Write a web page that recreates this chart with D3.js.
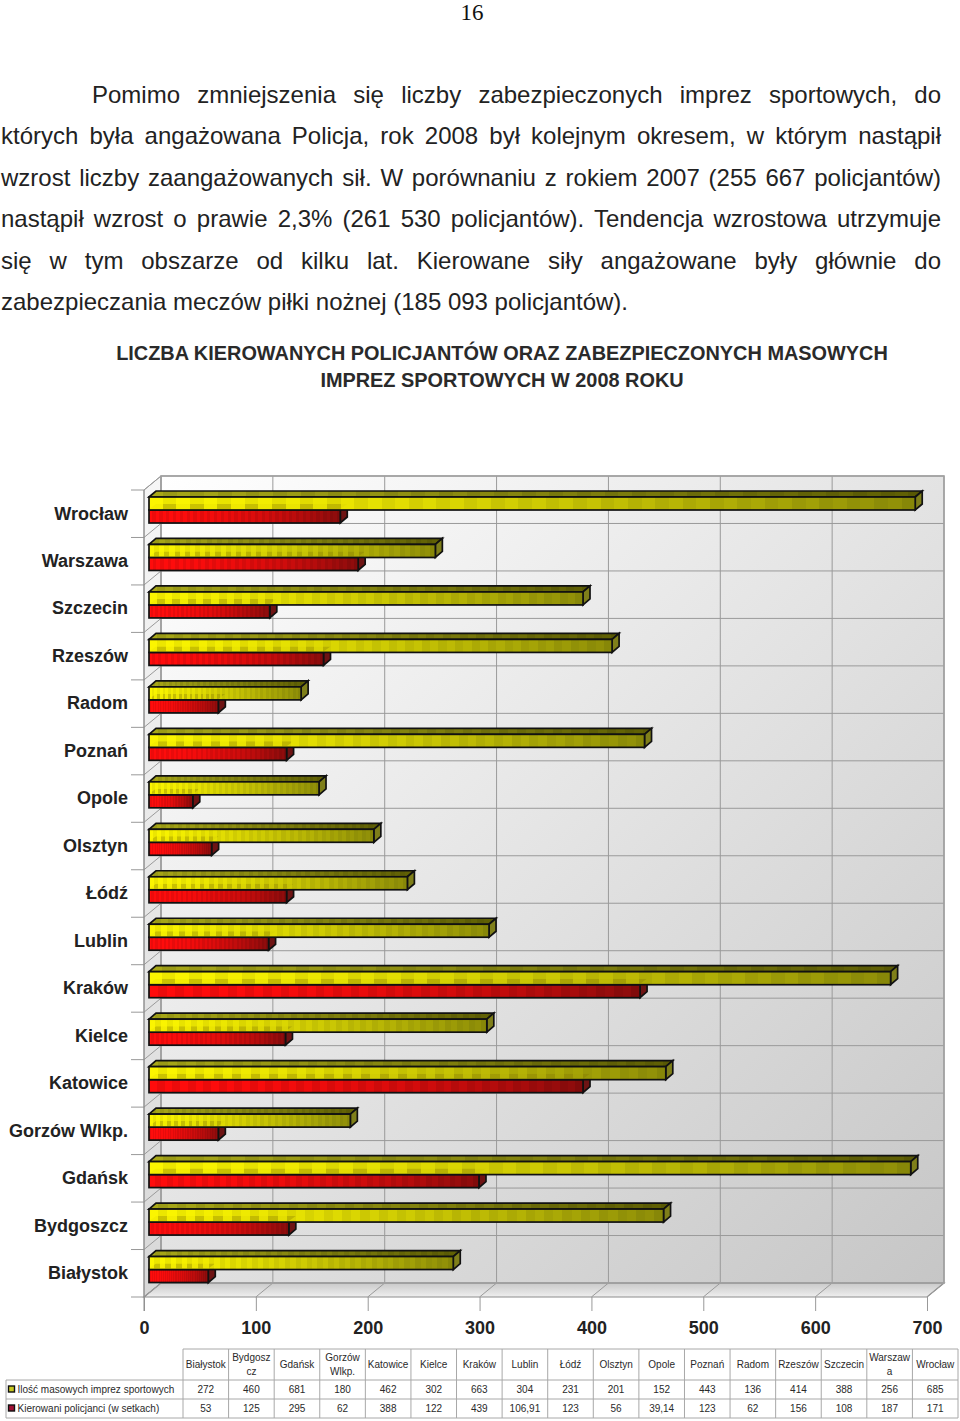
<!DOCTYPE html>
<html>
<head>
<meta charset="utf-8">
<script src="https://cdn.jsdelivr.net/npm/d3@7"></script>
<style>
	html, body { margin: 0; padding: 0; background: #fff; }
	svg { display: block; }
	text { font-family: 'Liberation Sans', Arial, sans-serif; }
</style>
</head>
<body>
<script>
const categories = ['Białystok', 'Bydgoszcz', 'Gdańsk', 'Gorzów Wlkp.', 'Katowice', 'Kielce', 'Kraków', 'Lublin', 'Łódź', 'Olsztyn', 'Opole', 'Poznań', 'Radom', 'Rzeszów', 'Szczecin', 'Warszawa', 'Wrocław'];
const tableHeads = ['Białystok', 'Bydgosz|cz', 'Gdańsk', 'Gorzów|Wlkp.', 'Katowice', 'Kielce', 'Kraków', 'Lublin', 'Łódź', 'Olsztyn', 'Opole', 'Poznań', 'Radom', 'Rzeszów', 'Szczecin', 'Warszaw|a', 'Wrocław'];
const events = [272, 460, 681, 180, 462, 302, 663, 304, 231, 201, 152, 443, 136, 414, 388, 256, 685];
const officers = [53, 125, 295, 62, 388, 122, 439, 106.91, 123, 56, 39.14, 123, 62, 156, 108, 187, 171];
const xTicks = [0, 100, 200, 300, 400, 500, 600, 700];
const seriesNames = ['Ilość masowych imprez sportowych', 'Kierowani policjanci (w setkach)'];

const chartTitle = ['LICZBA KIEROWANYCH POLICJANTÓW ORAZ ZABEZPIECZONYCH MASOWYCH', 'IMPREZ SPORTOWYCH W 2008 ROKU'];
const paragraph = [
	'Pomimo zmniejszenia się liczby zabezpieczonych imprez sportowych, do',
	'których była angażowana Policja, rok 2008 był kolejnym okresem, w którym nastąpił',
	'wzrost liczby zaangażowanych sił. W porównaniu z rokiem 2007 (255 667 policjantów)',
	'nastąpił wzrost o prawie 2,3% (261 530 policjantów). Tendencja wzrostowa utrzymuje',
	'się w tym obszarze od kilku lat. Kierowane siły angażowane były głównie do',
	'zabezpieczania meczów piłki nożnej (185 093 policjantów).'
];

const svg = d3.select('body').append('svg').attr('width', 960).attr('height', 1421);
const defs = svg.append('defs');

// page text
svg.append('text').text('16')
	.attr('x', 472).attr('y', 20)
	.attr('text-anchor', 'middle')
	.style('font-family', "'Liberation Serif', serif")
	.style('font-size', '23px')
	.attr('fill', '#111');

paragraph.forEach((line, i) => {
	const left = i === 0 ? 92 : 1;
	const t = svg.append('text').text(line)
		.attr('x', left).attr('y', 103 + i * 41.4)
		.style('font-size', '24px')
		.attr('fill', '#222');
	if (i < paragraph.length - 1) {
		// justified lines, spread the spaces out to the right margin
		const gaps = line.split(' ').length - 1;
		t.style('word-spacing', (941 - left - t.node().getComputedTextLength()) / gaps + 'px');
	}
});

chartTitle.forEach((line, i) => {
	svg.append('text').text(line)
		.attr('x', 502).attr('y', 360 + i * 26.5)
		.attr('text-anchor', 'middle')
		.style('font-size', '19.9px')
		.style('font-weight', 'bold')
		.attr('fill', '#2a2a2a');
});

// chart geometry
const wallDx = 17, wallDy = -14;
const barInset = 5, barDx = 7, barDy = -6;
const x = d3.scaleLinear().domain([0, 700]).range([144, 927]);
const y = d3.scaleBand().domain(categories.slice().reverse()).range([490, 1297]);
const yTop = y.range()[0], yBottom = y.range()[1];
const barH = 13;

const stops = (id, attrs, list) => {
	const g = defs.append('linearGradient').attr('id', id);
	Object.keys(attrs).forEach(k => g.attr(k, attrs[k]));
	list.forEach(s => g.append('stop').attr('offset', s[0]).attr('stop-color', s[1]).attr('stop-opacity', s[2] === undefined ? 1 : s[2]));
};

// bar fills are stepped, always the same number of bands over the bar length
const bands = 28;
const stepped = (id, from, to, power, dim) => {
	const col = d3.interpolateRgb(from, to);
	const list = [];
	d3.range(bands * 2).forEach(i => {
		let c = d3.color(col(Math.pow(i / (bands * 2 - 1), power)));
		if (i % 2) c = c.darker(dim);
		list.push([i / (bands * 2), c.formatHex()]);
		list.push([(i + 1) / (bands * 2), c.formatHex()]);
	});
	stops(id, {}, list);
};
stepped('yellowFront', '#fbf500', '#8f8f08', 1.3, 0.16);
stepped('yellowTop', '#a8a818', '#5f5f04', 1, 0.22);
stepped('redFront', '#ff0c0c', '#8c0c0c', 2, 0.22);

const bumpStops = [];
d3.range(bands * 2).forEach(i => {
	const o = i % 2 ? 0.3 : 0.05;
	bumpStops.push([i / (bands * 2), '#7d7000', o]);
	bumpStops.push([(i + 1) / (bands * 2), '#7d7000', o]);
});
stops('yellowBumps', {}, bumpStops);

stops('wallFill', {gradientUnits: 'userSpaceOnUse', x1: 161, y1: 476, x2: 944, y2: 1283}, [[0, '#ffffff'], [1, '#c6c6c6']]);
stops('sideFill', {x1: 0, y1: 0, x2: 0, y2: 1}, [[0, '#f6f6f6'], [1, '#d8d8d8']]);
stops('floorFill', {x1: 0, y1: 0, x2: 0, y2: 1}, [[0, '#c9c9c9'], [1, '#efefef']]);

const poly = pts => pts.map(p => p.join(',')).join(' ');
const gridCol = '#9a9a9a';

// walls
const walls = svg.append('g');
walls.append('rect')
	.attr('x', x(0) + wallDx).attr('y', yTop + wallDy)
	.attr('width', x(700) - x(0)).attr('height', yBottom - yTop)
	.attr('fill', 'url(#wallFill)');
walls.append('polygon')
	.attr('points', poly([[x(0), yTop], [x(0) + wallDx, yTop + wallDy], [x(0) + wallDx, yBottom + wallDy], [x(0), yBottom]]))
	.attr('fill', 'url(#sideFill)').attr('stroke', gridCol);
walls.append('polygon')
	.attr('points', poly([[x(0), yBottom], [x(0) + wallDx, yBottom + wallDy], [x(700) + wallDx, yBottom + wallDy], [x(700), yBottom]]))
	.attr('fill', 'url(#floorFill)').attr('stroke', '#8c8c8c').attr('stroke-width', 1.2);

// gridlines
const yLines = y.domain().map(c => y(c)).concat([yBottom]);
walls.selectAll('.gx').data(xTicks).enter().append('polyline')
	.attr('fill', 'none').attr('stroke', gridCol)
	.attr('points', d => poly([[x(d), yBottom], [x(d) + wallDx, yBottom + wallDy], [x(d) + wallDx, yTop + wallDy]]));
walls.selectAll('.gy').data(yLines).enter().append('polyline')
	.attr('fill', 'none').attr('stroke', gridCol)
	.attr('points', d => poly([[x(0), d], [x(0) + wallDx, d + wallDy], [x(700) + wallDx, d + wallDy]]));
walls.append('rect')
	.attr('x', x(0) + wallDx).attr('y', yTop + wallDy)
	.attr('width', x(700) - x(0)).attr('height', yBottom - yTop)
	.attr('fill', 'none').attr('stroke', '#a0a0a0').attr('stroke-width', 1.6);

// axes
const xAxis = svg.append('g').attr('transform', `translate(0,${yBottom})`)
	.call(d3.axisBottom(x).tickValues(xTicks).tickSize(14).tickPadding(10));
const yAxis = svg.append('g').attr('transform', `translate(${x(0)},0)`)
	.call(d3.axisLeft(y).tickSize(13).tickPadding(3));
// category ticks sit on the band edges, labels stay in the middle
yAxis.selectAll('.tick line').attr('transform', `translate(0,${-y.bandwidth() / 2})`);
[xAxis, yAxis].forEach(a => {
	a.select('.domain').remove();
	a.selectAll('.tick line').attr('stroke', '#999');
	a.selectAll('text')
		.style('font-family', "'Liberation Sans', Arial, sans-serif")
		.style('font-size', '18px')
		.style('font-weight', 'bold')
		.attr('fill', '#222');
});
svg.append('line')
	.attr('x1', x(0) - 13).attr('x2', x(0)).attr('y1', yBottom).attr('y2', yBottom)
	.attr('stroke', '#999');
svg.append('line')
	.attr('x1', x(0)).attr('x2', x(0)).attr('y1', yTop).attr('y2', yBottom + 14)
	.attr('stroke', '#8c8c8c');

// bars, top category first so lower ones overlap correctly
const barStroke = {stroke: '#111', 'stroke-width': 1.7, 'stroke-linejoin': 'miter'};
const styled = sel => {
	Object.keys(barStroke).forEach(k => sel.attr(k, barStroke[k]));
	return sel;
};
const rows = categories.map((c, i) => ({c, ev: events[i], of: officers[i]})).reverse();
const groups = svg.selectAll('.row').data(rows).enter().append('g').attr('class', 'row')
	.attr('transform', d => `translate(0,${y(d.c) + 7})`);

const x0 = x(0) + barInset;
const xEnd = v => x(v) + barInset;

groups.each(function(d) {
	const g = d3.select(this);
	// red bar sits under the yellow one
	styled(g.append('polygon'))
		.attr('points', poly([[xEnd(d.of), barH], [xEnd(d.of) + barDx, barH + barDy], [xEnd(d.of) + barDx, 2 * barH + barDy], [xEnd(d.of), 2 * barH]]))
		.attr('fill', '#6e1414');
	styled(g.append('rect'))
		.attr('x', x0).attr('y', barH)
		.attr('width', xEnd(d.of) - x0).attr('height', barH)
		.attr('fill', 'url(#redFront)');
	styled(g.append('polygon'))
		.attr('points', poly([[x0, 0], [x0 + barDx, barDy], [xEnd(d.ev) + barDx, barDy], [xEnd(d.ev), 0]]))
		.attr('fill', 'url(#yellowTop)');
	styled(g.append('polygon'))
		.attr('points', poly([[xEnd(d.ev), 0], [xEnd(d.ev) + barDx, barDy], [xEnd(d.ev) + barDx, barH + barDy], [xEnd(d.ev), barH]]))
		.attr('fill', '#7f7f1a');
	styled(g.append('rect'))
		.attr('x', x0).attr('y', 0)
		.attr('width', xEnd(d.ev) - x0).attr('height', barH)
		.attr('fill', 'url(#yellowFront)');
	// the top face of the red bar shows through the yellow front
	const clip = 'clip' + categories.indexOf(d.c);
	defs.append('clipPath').attr('id', clip).append('polygon')
		.attr('points', poly([[x0, barH - 1], [x0 + barDx, barH + barDy], [xEnd(d.of) + barDx, barH + barDy], [xEnd(d.of), barH - 1]]));
	g.append('g').attr('clip-path', `url(#${clip})`).append('rect')
		.attr('x', x0).attr('y', 0)
		.attr('width', xEnd(d.ev) - x0).attr('height', barH)
		.attr('fill', 'url(#yellowBumps)');
});

// data table
const tableX = d3.scaleBand().domain(categories).range([183, 958]);
const rowY = [1349, 1380, 1399, 1418];
const table = svg.append('g');
const tableCol = '#a8a8a8';
rowY.forEach((ry, i) => {
	table.append('line')
		.attr('x1', i === 0 ? 183 : 6).attr('x2', 958).attr('y1', ry).attr('y2', ry)
		.attr('stroke', tableCol);
});
table.append('line').attr('x1', 6).attr('x2', 6).attr('y1', rowY[1]).attr('y2', rowY[3]).attr('stroke', tableCol);
categories.concat([null]).forEach((c, i) => {
	const cx = c === null ? 958 : tableX(c);
	table.append('line').attr('x1', cx).attr('x2', cx).attr('y1', rowY[0]).attr('y2', rowY[3]).attr('stroke', tableCol);
});
const cellText = (s, cx, cy, anchor) => table.append('text').text(s)
	.attr('x', cx).attr('y', cy)
	.attr('text-anchor', anchor || 'middle')
	.style('font-size', '10px')
	.attr('fill', '#2a2a2a');
categories.forEach((c, i) => {
	const cx = tableX(c) + tableX.bandwidth() / 2;
	const parts = tableHeads[i].split('|');
	parts.forEach((p, k) => {
		cellText(p, cx, (parts.length === 1 ? 1368 : 1361) + k * 14);
	});
	cellText(String(events[i]).replace('.', ','), cx, 1392.5);
	cellText(String(officers[i]).replace('.', ','), cx, 1411.5);
});
seriesNames.forEach((name, i) => {
	const ry = rowY[i + 1];
	table.append('rect')
		.attr('x', 8.5).attr('y', ry + 6).attr('width', 6).attr('height', 6)
		.attr('fill', i === 0 ? '#c8c820' : '#a01034')
		.attr('stroke', '#111').attr('stroke-width', 1.4);
	cellText(name, 17.5, ry + 13, 'start');
});
</script>
</body>
</html>
